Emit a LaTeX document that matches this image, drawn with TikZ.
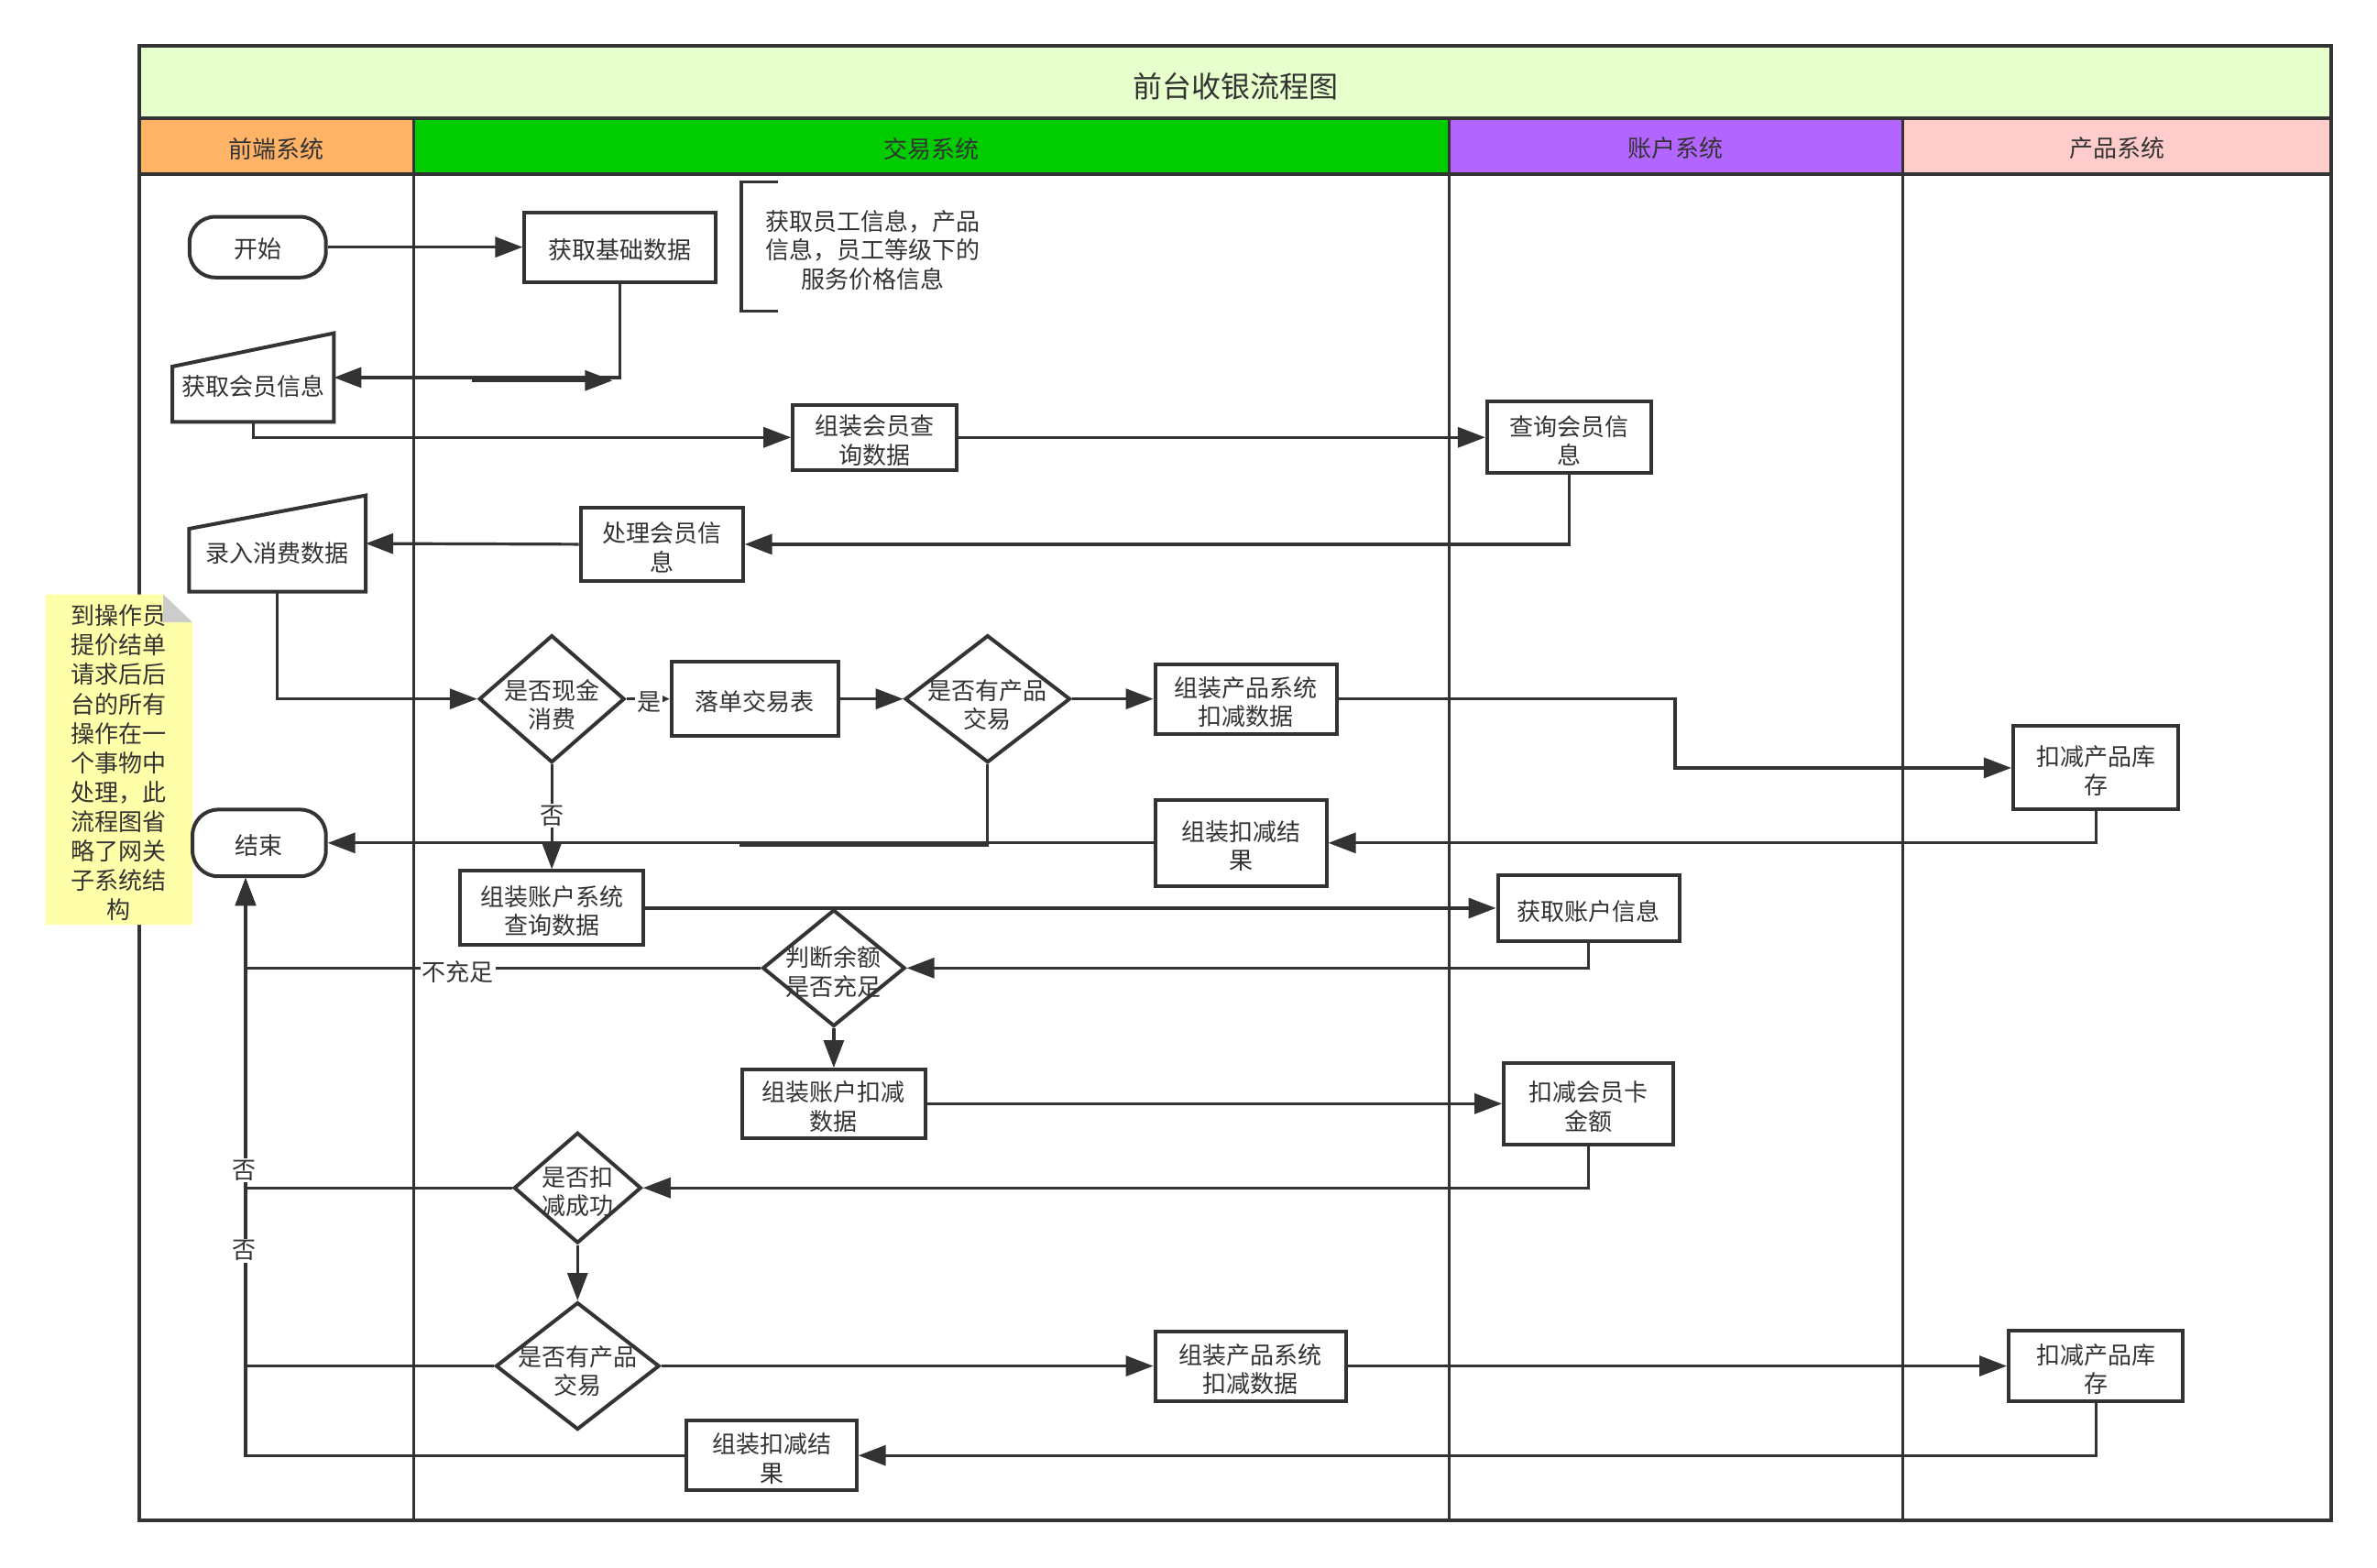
\documentclass[tikz,border=0pt]{standalone}
\usepackage{fontspec}
\setmainfont{Noto Sans CJK SC}
\usetikzlibrary{arrows.meta,shapes.geometric,calc}
\definecolor{lc}{HTML}{333333}
\definecolor{tc}{HTML}{333333}
\definecolor{titlebg}{HTML}{E6FFCC}
\definecolor{orangebg}{HTML}{FFB366}
\definecolor{greenbg}{HTML}{00CC00}
\definecolor{purplebg}{HTML}{B266FF}
\definecolor{pinkbg}{HTML}{FFCCCC}
\definecolor{notebg}{HTML}{FFFFAA}
\definecolor{foldbg}{HTML}{CCCCCC}
\def\U{0.827pt}
\newcommand\fsz{\fontsize{13pt}{15.7pt}\selectfont}
\newcommand\fst{\fontsize{16pt}{19pt}\selectfont}
\tikzset{
  ln/.style={line width=1.6pt, draw=lc},
  arr/.style={ln, -{Triangle[length=15pt,width=11pt]}},
  sarr/.style={ln, -{Triangle[length=7pt,width=6pt]}},
  box/.style={draw=lc, line width=2pt, fill=white, rectangle, inner sep=0pt},
  term/.style={box, rounded corners=14pt},
  dia/.style={draw=lc, line width=2pt, fill=white, diamond, inner sep=0pt},
  txt/.style={inner sep=0pt, align=center, text=tc, font=\fsz},
  lbl/.style={fill=white, inner sep=1pt, text=tc, font=\fsz},
  lane/.style={draw=lc, line width=1.6pt},
  frame/.style={draw=lc, line width=2pt},
  mshape/.style={draw=lc, line width=2pt, fill=white, line join=miter},
}
\newcommand\bx[6]{\node[box, minimum width=#4*\U, minimum height=#5*\U] (#1) at (#2,#3) {};
  \node[txt] (#1t) at ($(#1.center)+(0,2)$) {#6};}
\newcommand\tm[6]{\node[term, minimum width=#4*\U, minimum height=#5*\U] (#1) at (#2,#3) {};
  \node[txt] (#1t) at ($(#1.center)+(0,1.5)$) {#6};}
\newcommand\dm[7]{\node[dia, minimum width=#4*\U, minimum height=#5*\U] (#1) at (#2,#3) {};
  \node[txt] (#1t) at ($(#1.center)+(0,#6)$) {#7};}
\begin{document}
\begin{tikzpicture}[x=0.827pt, y=-0.827pt]
\useasboundingbox (0,0) rectangle (1568,1034);
% swimlane background
\fill[titlebg] (92,30) rectangle (1538,78);
\fill[orangebg] (92,78) rectangle (273,115);
\fill[greenbg] (273,78) rectangle (956,115);
\fill[purplebg] (956,78) rectangle (1255,115);
\fill[pinkbg] (1255,78) rectangle (1538,115);
\node[txt, font=\fst] (title) at (815,57) {前台收银流程图};
\node[txt] (h1) at (182.5,98) {前端系统};
\node[txt] (h2) at (614.5,98) {交易系统};
\node[txt] (h3) at (1105.5,98) {账户系统};
\node[txt] (h4) at (1396.5,98) {产品系统};
\draw[lane] (273,78) -- (273,1003);
\draw[lane] (956,78) -- (956,1003);
\draw[lane] (1255,78) -- (1255,1003);
\draw[frame] (92,78) -- (1538,78);
\draw[frame] (92,115) -- (1538,115);
\draw[frame] (92,30) rectangle (1538,1003);

% note
\fill[notebg] (30,392) -- (107.7,392) -- (127,410.5) -- (127,610) -- (30,610) -- cycle;
\fill[foldbg] (107.7,392) -- (107.7,410.5) -- (127,410.5) -- cycle;
\node[txt, font=\fontsize{13pt}{16pt}\selectfont] (note) at (78.5,503) {到操作员\\提价结单\\请求后后\\台的所有\\操作在一\\个事物中\\处理，此\\流程图省\\略了网关\\子系统结\\构};

% bracket annotation
\coordinate (bt) at (513,120);
\coordinate (bb) at (513,205);
\draw[ln] (bt) -- ++(-24,0) |- (bb);
\node[txt] (ann) at (576,165) {获取员工信息，产品\\信息，员工等级下的\\服务价格信息};

% nodes
\tm{ks}{170}{163}{90}{40}{开始}
\bx{jc}{409}{163}{126}{46}{获取基础数据}
% manual input: 获取会员信息
\node[minimum width=106*\U, minimum height=58*\U, inner sep=0pt] (hy) at (167,249) {};
\draw[mshape] (hy.south west) -- (hy.south east) -- (hy.north east) -- ([yshift=-22*\U]hy.north west) -- cycle;
\node[txt] (hyt) at (167,255) {获取会员信息};
\bx{zz1}{577}{288.5}{108}{43}{组装会员查\\询数据}
\bx{cx}{1035}{288.5}{108}{47}{查询会员信\\息}
\bx{cl}{436.5}{359}{107}{48}{处理会员信\\息}
% manual input: 录入消费数据
\node[minimum width=116*\U, minimum height=63*\U, inner sep=0pt] (lr) at (183,358.5) {};
\draw[mshape] (lr.south west) -- (lr.south east) -- (lr.north east) -- ([yshift=-22*\U]lr.north west) -- cycle;
\node[txt] (lrt) at (183,365) {录入消费数据};
\dm{d1}{364}{461}{96}{84}{4}{是否现金\\消费}
\bx{ld}{498}{461}{110}{49}{落单交易表}
\dm{d2}{651.5}{461}{109}{84}{4}{是否有产品\\交易}
\bx{cp1}{822}{461}{120}{46}{组装产品系统\\扣减数据}
\bx{kc1}{1382.5}{506.5}{109}{55}{扣减产品库\\存}
\bx{jg1}{818.5}{556}{113}{57}{组装扣减结\\果}
\tm{js}{171}{556}{88}{44}{结束}
\bx{zzzh}{364}{599}{121}{49}{组装账户系统\\查询数据}
\bx{zhxx}{1048}{599}{120}{44}{获取账户信息}
\dm{d3}{550}{638.5}{94}{77}{2.5}{判断余额\\是否充足}
\bx{zzkj}{550}{728}{121}{45}{组装账户扣减\\数据}
\bx{kjhy}{1048}{728}{112}{54}{扣减会员卡\\金额}
\dm{d4}{381}{783.5}{84}{73}{2.5}{是否扣\\减成功}
\dm{d5}{381}{901}{108}{84}{3.5}{是否有产品\\交易}
\bx{cp2}{825}{901}{126}{46}{组装产品系统\\扣减数据}
\bx{kc2}{1382.5}{901}{115}{47}{扣减产品库\\存}
\bx{jg2}{509}{960}{112}{46}{组装扣减结\\果}

% helper coordinates
\coordinate (g1) at (311,251);
\coordinate (g2) at (404,251);
\coordinate (k1) at (1105,461);
\coordinate (c1) at (488,557.5);
\coordinate (jin) at ([xshift=-9*\U]js.south);

% connectors
\draw[arr] (ks.east) -- (jc.west);
\draw[arr] (jc.south) |- (hy.east);
\draw[arr] (g1) -- (g2);
\draw[arr] (hy.south) |- (zz1.west);
\draw[arr] (zz1.east) -- (cx.west);
\draw[arr] (cx.south) |- (cl.east);
\draw[arr] (cl.west) -- (lr.east);
\draw[arr] (lr.south) |- (d1.west);
\draw[sarr] (d1.east) -- (ld.west);
\draw[arr] (ld.east) -- (d2.west);
\draw[arr] (d2.east) -- (cp1.west);
\draw[arr] (cp1.east) -- (k1) |- (kc1.west);
\draw[arr] (kc1.south) |- (jg1.east);
\draw[arr] (jg1.west) -- (js.east);
\draw[ln] (d2.south) |- (c1);
\draw[arr] (d1.south) -- (zzzh.north);
\draw[arr] (zzzh.east) -- (zhxx.west);
\draw[arr] (zhxx.south) |- (d3.east);
\draw[arr] (d3.west) -| (jin);
\draw[arr] (d3.south) -- (zzkj.north);
\draw[arr] (zzkj.east) -- (kjhy.west);
\draw[arr] (kjhy.south) |- (d4.east);
\draw[arr] (d4.west) -| (jin);
\draw[arr] (d4.south) -- (d5.north);
\draw[arr] (d5.east) -- (cp2.west);
\draw[arr] (cp2.east) -- (kc2.west);
\draw[arr] (kc2.south) |- (jg2.east);
\draw[arr] (jg2.west) -| (jin);
\draw[arr] (d5.west) -| (jin);

% edge labels
\node[lbl] (l1) at (428,463) {是};
\node[lbl] (l2) at (364,538) {否};
\node[lbl] (l3) at (302,641) {不充足};
\node[lbl] (l4) at (161,772) {否};
\node[lbl] (l5) at (161,825) {否};
\end{tikzpicture}
\end{document}
